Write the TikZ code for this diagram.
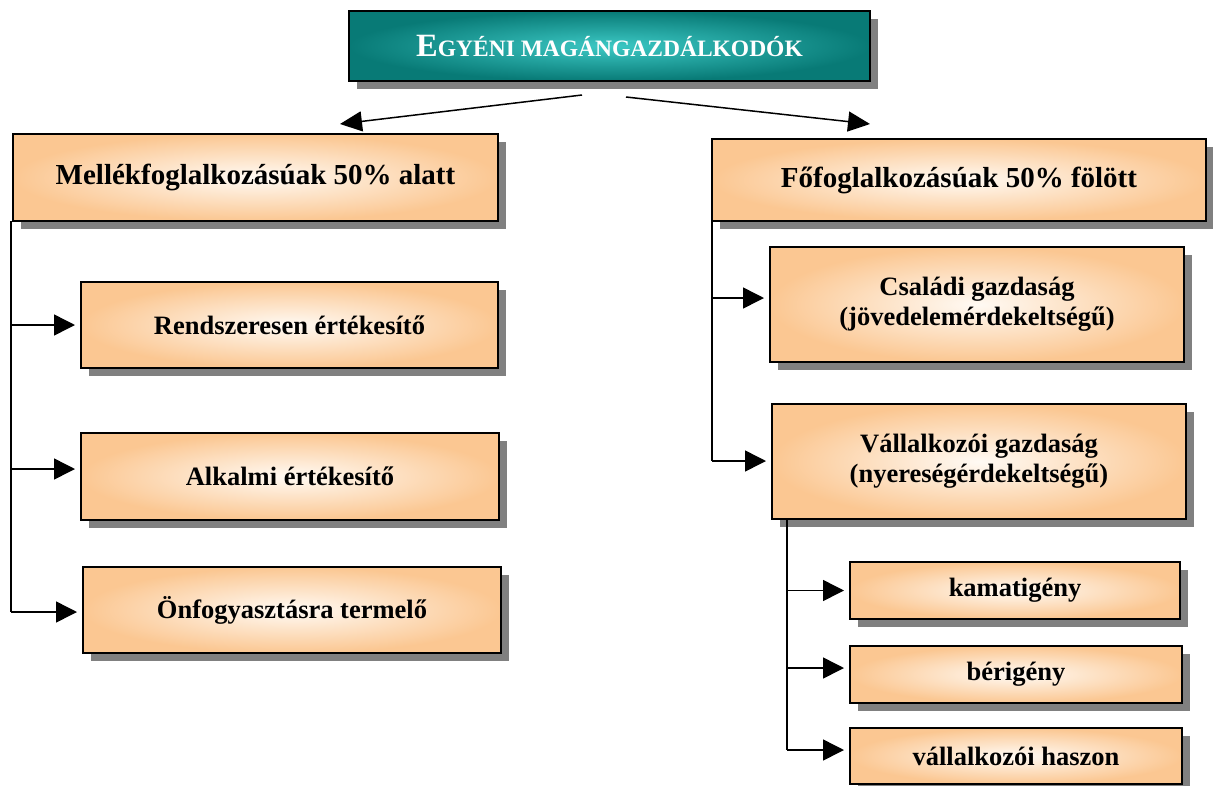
\documentclass[tikz,border=0pt]{standalone}
\usepackage{fontspec}
\setmainfont{Liberation Serif}
\usetikzlibrary{shadows,arrows.meta}
\definecolor{peach}{RGB}{251,199,146}
\definecolor{peachin}{RGB}{255,250,244}
\definecolor{tealout}{RGB}{8,122,118}
\definecolor{tealin}{RGB}{60,200,196}
\definecolor{shadowgray}{RGB}{128,128,128}
\begin{document}
\begin{tikzpicture}[x=1pt,y=-1pt,
  basebox/.style={draw=black, line width=2pt, shading=radial, anchor=north west,
    inner sep=0pt, outer sep=0pt, align=center,
    drop shadow={shadow xshift=8pt, shadow yshift=-8pt, fill=shadowgray, opacity=1}},
  box/.style={basebox, inner color=peachin, outer color=peach,
    font=\bfseries\fontsize{26.5}{30}\selectfont},
  headbox/.style={box, font=\bfseries\fontsize{29}{33}\selectfont},
  topbox/.style={basebox, inner color=tealin, outer color=tealout, text=white,
    font=\bfseries},
  conn/.style={line width=1.5pt},
  arr/.style={line width=1.5pt, -{Triangle[length=21pt,width=21pt]}, shorten >=6pt},
  toparr/.style={line width=1.5pt, -{Triangle[length=22pt,width=20pt]}}
]
\useasboundingbox (0,0) rectangle (1213,785);
\fill[white] (0,0) rectangle (1213,785);

% boxes
\node[topbox, minimum width=521pt, minimum height=70pt] (top) at (349,11)
  {\fontsize{32.5}{36}\selectfont E\fontsize{23.5}{36}\selectfont GYÉNI MAGÁNGAZDÁLKODÓK};
\node[headbox, minimum width=485pt, minimum height=87pt] (mell) at (13,134) {Mellékfoglalkozásúak 50\% alatt};
\node[headbox, minimum width=494pt, minimum height=82pt] (fo) at (712,139) {Főfoglalkozásúak 50\% fölött};
\node[box, minimum width=417pt, minimum height=86pt] (rend) at (81,282) {Rendszeresen értékesítő};
\node[box, minimum width=418pt, minimum height=87pt] (alk) at (81,433) {Alkalmi értékesítő};
\node[box, minimum width=418pt, minimum height=86pt] (onf) at (83,567) {Önfogyasztásra termelő};
\node[box, minimum width=414pt, minimum height=115pt] (csal) at (770,247) {Családi gazdaság\\(jövedelemérdekeltségű)};
\node[box, minimum width=414pt, minimum height=115pt] (vall) at (772,404) {Vállalkozói gazdaság\\(nyereségérdekeltségű)};
\node[box, minimum width=330pt, minimum height=57pt] (kam) at (850,562) {kamatigény};
\node[box, minimum width=332pt, minimum height=57pt] (ber) at (850,646) {bérigény};
\node[box, minimum width=332pt, minimum height=56pt] (hasz) at (850,728) {vállalkozói haszon};

% top arrows
\coordinate (tls) at (582,95);
\coordinate (tle) at (340,124);
\coordinate (trs) at (626,97);
\coordinate (tre) at (870,124);
\draw[toparr] (tls) -- (tle);
\draw[toparr] (trs) -- (tre);

% left branch
\coordinate (lt0) at ([xshift=-2pt]mell.south west);
\coordinate (lt) at (11,612);
\coordinate (alkin) at ([yshift=7.5pt]alk.west);
\coordinate (onfin) at ([yshift=-2pt]onf.west);
\draw[conn] (lt0) -- (lt);
\draw[arr] (lt |- rend.west) -- (rend.west);
\draw[arr] (alkin -| lt) -- (alkin);
\draw[arr] (onfin -| lt) -- (onfin);

% right branch
\coordinate (csalin) at ([yshift=6.5pt]csal.west);
\coordinate (rt) at (712,461);
\draw[conn] (fo.south west) -- (rt);
\draw[arr] (csalin -| rt) -- (csalin);
\draw[arr] (rt) -- (rt -| vall.west);

% lower right branch
\coordinate (vt0) at ([xshift=15pt]vall.south west);
\coordinate (vt) at (787,750);
\coordinate (berin) at ([yshift=6.5pt]ber.west);
\coordinate (haszin) at ([yshift=6pt]hasz.west);
\draw[conn] (vt0) -- (vt);
\draw[arr] (vt |- kam.west) -- (kam.west);
\draw[arr] (berin -| vt) -- (berin);
\draw[arr] (haszin -| vt) -- (haszin);
\end{tikzpicture}
\end{document}
